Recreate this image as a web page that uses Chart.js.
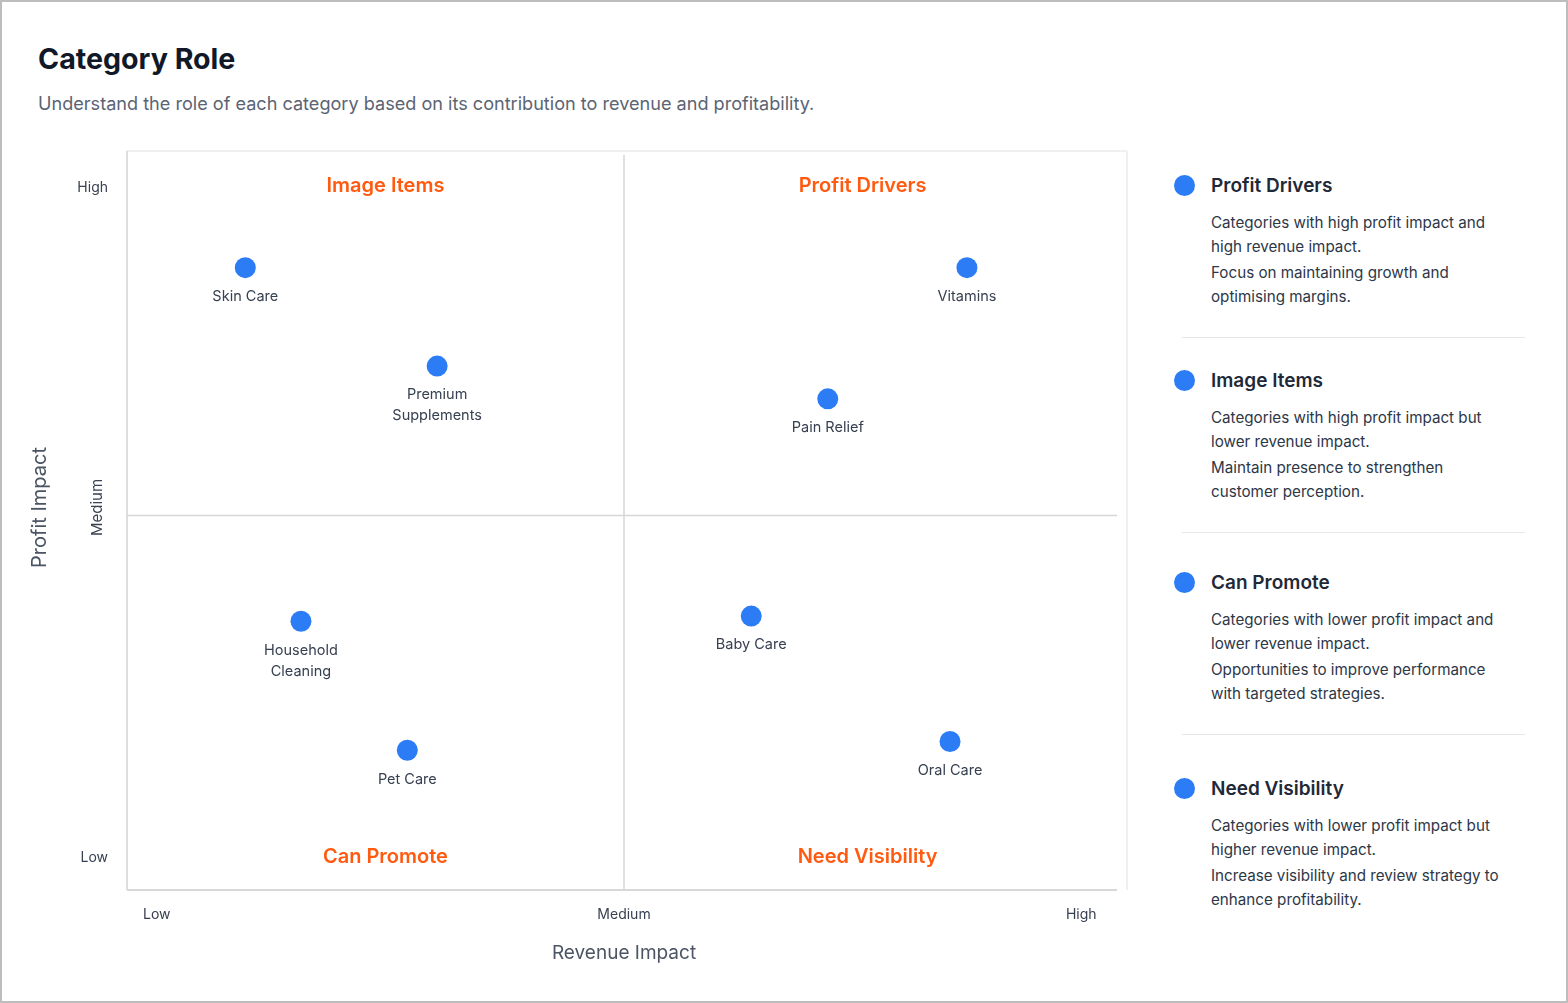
<!DOCTYPE html>
<html>
<head>
<meta charset="utf-8">
<title>Category Role</title>
<script src="https://cdn.jsdelivr.net/npm/chart.js@4.4.1/dist/chart.umd.min.js"></script>
<style>
  html, body { margin: 0; padding: 0; background: #fff; }
  body { width: 1568px; height: 1003px; position: relative; overflow: hidden; font-family: Inter, "Noto Sans", sans-serif; }
  .frame { position: absolute; inset: 0; border: 2px solid #bdbdbd; pointer-events: none; }
  h1 { position: absolute; left: 38px; top: 41px; margin: 0; font-size: 28.6px; line-height: 36px; font-weight: 700; color: #111827; }
  .sub { position: absolute; left: 38px; top: 91px; font-size: 18.1px; line-height: 24px; color: #5b6473; }
  #chartWrap { position: absolute; left: 0; top: 130px; width: 1150px; height: 860px; }
  #legend { position: absolute; left: 1172px; top: 0; width: 353px; height: 1000px; }
  .item { position: absolute; left: 0; width: 353px; }
  .item:nth-child(1) { top: 173px; }
  .item:nth-child(2) { top: 368px; }
  .item:nth-child(3) { top: 570px; }
  .item:nth-child(4) { top: 776px; }
  .head { display: flex; align-items: center; height: 24px; font-size: 19px; font-weight: 600; color: #1f2937; }
  .dot { width: 21px; height: 21px; border-radius: 50%; background: #2b7cf5; margin-left: 1.5px; margin-right: 16.5px; flex: none; }
  .desc { margin-top: 14px; }
  .desc p { margin: 0 0 0 39px; font-size: 15.2px; line-height: 24px; color: #2d3748; white-space: nowrap; }
  .desc p + p { margin-top: 2px; }
  .sep { position: absolute; left: 10px; right: 0; top: 164px; height: 1px; background: #e5e7eb; }
</style>
</head>
<body>
<h1>Category Role</h1>
<div class="sub">Understand the role of each category based on its contribution to revenue and profitability.</div>
<div id="chartWrap"><canvas id="roleChart"></canvas></div>
<div id="legend"></div>
<div class="frame"></div>

<script>
// categories and their position on the matrix (0 = low, 10 = high)
const categories = ['Skin Care', 'Premium\nSupplements', 'Vitamins', 'Pain Relief', 'Household\nCleaning', 'Pet Care', 'Baby Care', 'Oral Care'];
const revenueImpact = [1.19, 3.12, 8.45, 7.05, 1.75, 2.82, 6.28, 8.28];
const profitImpact = [8.4, 7.05, 8.4, 6.6, 3.55, 1.78, 3.62, 1.9];

const xTickLabels = ['Low', 'Medium', 'High'];
const xTickValues = [0.3, 5, 9.6];
const yTickLabels = ['Low', 'Medium', 'High'];
const yTickValues = [0.3, 5, 9.5];

const quadrantNames = ['Image Items', 'Profit Drivers', 'Can Promote', 'Need Visibility'];
const quadrantX = [2.6, 7.4, 2.6, 7.45];
const quadrantY = [9.5, 9.5, 0.3, 0.3];

const roleNames = ['Profit Drivers', 'Image Items', 'Can Promote', 'Need Visibility'];
const roleText = [
    [['Categories with high profit impact and', 'high revenue impact.'], ['Focus on maintaining growth and', 'optimising margins.']],
    [['Categories with high profit impact but', 'lower revenue impact.'], ['Maintain presence to strengthen', 'customer perception.']],
    [['Categories with lower profit impact and', 'lower revenue impact.'], ['Opportunities to improve performance', 'with targeted strategies.']],
    [['Categories with lower profit impact but', 'higher revenue impact.'], ['Increase visibility and review strategy to', 'enhance profitability.']]
];

const dotColor = '#2b7cf5';
const textColor = '#374151';

// legend panel on the right
const legend = document.getElementById('legend');
legend.innerHTML = roleNames.map((name, i) => `
    <div class="item">
        <div class="head"><span class="dot"></span>${name}</div>
        <div class="desc">${roleText[i].map(p => `<p>${p.join('<br>')}</p>`).join('')}</div>
        ${i < roleNames.length - 1 ? '<div class="sep"></div>' : ''}
    </div>
`).join('');

const line = (ctx, x1, y1, x2, y2) => {
    ctx.beginPath();
    ctx.moveTo(x1, y1);
    ctx.lineTo(x2, y2);
    ctx.stroke();
};

const quadrantPlugin = {
    id: 'quadrants',
    beforeDatasetsDraw(chart) {
        const { ctx, chartArea: a, scales: { x, y } } = chart;
        const midX = x.getPixelForValue(5);
        const midY = y.getPixelForValue(5);
        ctx.save();
        // outer frame
        ctx.lineWidth = 1.5;
        ctx.strokeStyle = '#ebebeb';
        line(ctx, a.left, a.top, a.right + 6, a.top);
        line(ctx, a.right + 6, a.top, a.right + 6, a.bottom + 10);
        ctx.strokeStyle = '#d3d3d3';
        line(ctx, a.left, a.top, a.left, a.bottom + 10);
        ctx.lineWidth = 2;
        ctx.strokeStyle = '#d8d8d8';
        line(ctx, a.left, a.bottom + 10, a.right - 4, a.bottom + 10);
        // quadrant dividers
        ctx.lineWidth = 1.5;
        ctx.strokeStyle = '#d6d6d6';
        line(ctx, midX, a.top + 4, midX, a.bottom + 10);
        line(ctx, a.left, midY, a.right - 4, midY);

        // quadrant titles
        ctx.font = '600 20px Inter';
        ctx.fillStyle = '#ff5a0f';
        ctx.textAlign = 'center';
        ctx.textBaseline = 'middle';
        quadrantNames.forEach((q, i) => {
            ctx.fillText(q, x.getPixelForValue(quadrantX[i]), y.getPixelForValue(quadrantY[i]) - 1);
        });

        // tick labels
        ctx.fillStyle = textColor;
        ctx.font = '14px Inter';
        xTickLabels.forEach((t, i) => {
            ctx.fillText(t, x.getPixelForValue(xTickValues[i]), a.bottom + 35);
        });
        yTickLabels.forEach((t, i) => {
            const py = y.getPixelForValue(yTickValues[i]);
            if (t === 'Medium') {
                ctx.save();
                ctx.font = '15px Inter';
                ctx.translate(a.left - 30, py - 8);
                ctx.rotate(-Math.PI / 2);
                ctx.textAlign = 'center';
                ctx.fillText(t, 0, 0);
                ctx.restore();
            } else {
                ctx.textAlign = 'right';
                ctx.fillText(t, a.left - 19, py);
            }
        });

        // axis titles
        ctx.fillStyle = '#4b5563';
        ctx.font = '19px Inter';
        ctx.textAlign = 'center';
        ctx.fillText('Revenue Impact', midX, a.bottom + 73);
        ctx.save();
        ctx.font = '20px Inter';
        ctx.translate(a.left - 87, midY - 8);
        ctx.rotate(-Math.PI / 2);
        ctx.fillText('Profit Impact', 0, 0);
        ctx.restore();
        ctx.restore();
    },
    afterDatasetsDraw(chart) {
        const { ctx } = chart;
        const meta = chart.getDatasetMeta(0);
        ctx.save();
        ctx.font = '14.5px Inter';
        ctx.fillStyle = textColor;
        ctx.textAlign = 'center';
        ctx.textBaseline = 'middle';
        meta.data.forEach((pt, i) => {
            categories[i].split('\n').forEach((ln, j) => {
                ctx.fillText(ln, pt.x, pt.y + 29 + j * 21);
            });
        });
        ctx.restore();
    }
};

const hiddenScale = (min, max) => ({
    type: 'linear',
    min: min,
    max: max,
    ticks: { display: false },
    grid: { display: false, drawTicks: false },
    border: { display: false },
    title: { display: false }
});

new Chart(document.getElementById('roleChart'), {
    type: 'scatter',
    data: {
        datasets: [{
            label: 'Categories',
            data: revenueImpact.map((v, i) => ({ x: v, y: profitImpact[i] })),
            backgroundColor: dotColor,
            borderWidth: 0,
            pointRadius: 10.5,
            pointHoverRadius: 10.5
        }]
    },
    options: {
        responsive: true,
        maintainAspectRatio: false,
        animation: false,
        layout: { padding: { left: 127, top: 21, right: 29, bottom: 110 } },
        scales: { x: hiddenScale(0, 10), y: hiddenScale(0, 10) },
        plugins: { legend: { display: false }, tooltip: { enabled: false } },
        events: []
    },
    plugins: [quadrantPlugin]
});
</script>
</body>
</html>
